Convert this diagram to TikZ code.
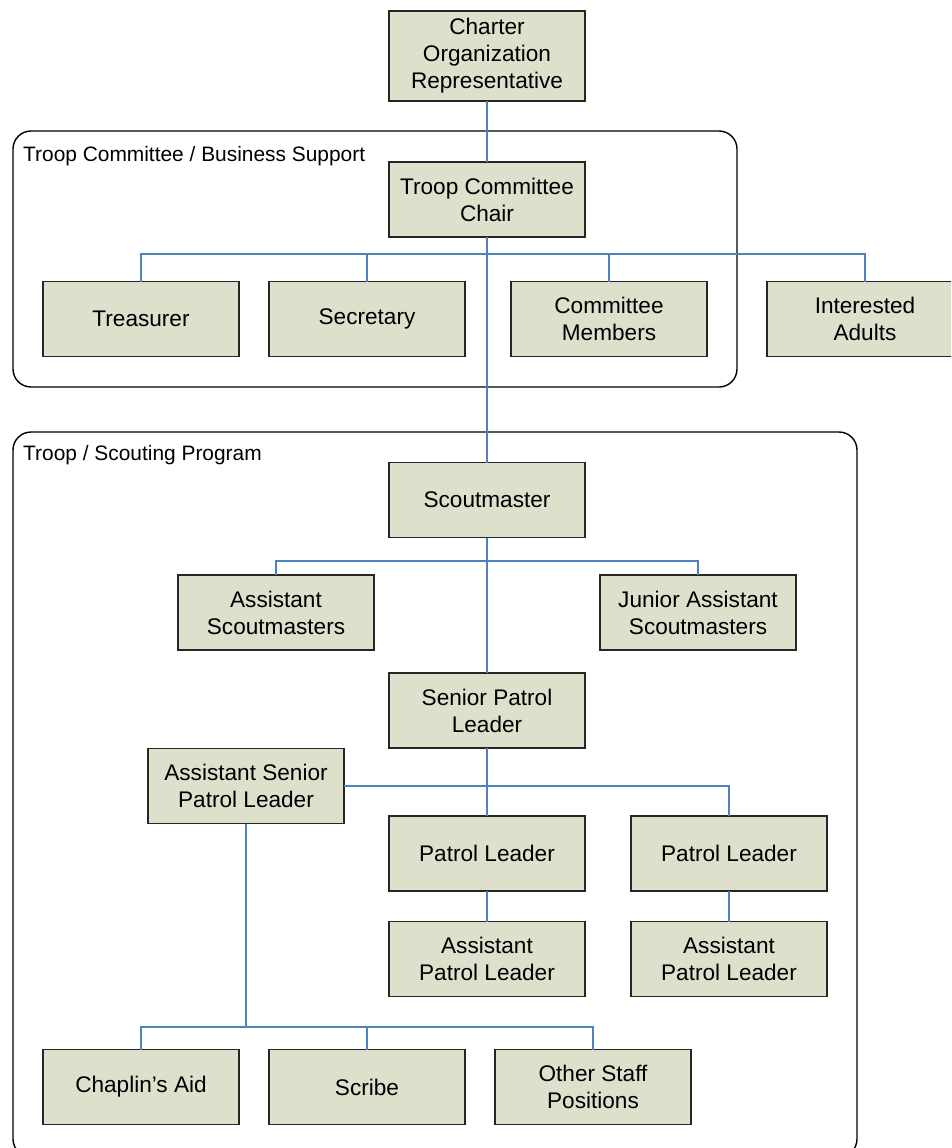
\documentclass[tikz,border=0pt]{standalone}
\usepackage{fontspec}
\setmainfont{Liberation Sans}
\definecolor{boxfill}{HTML}{DDE0CB}
\definecolor{linkblue}{HTML}{4F81BD}
\begin{document}
\begin{tikzpicture}[x=1pt,y=-1pt,
  orgbox/.style={draw=black!85, line width=1.2pt, fill=boxfill, minimum width=196pt, minimum height=75pt,
     inner sep=0pt, outer sep=0pt, align=center, font=\fontsize{22.6}{27}\selectfont},
  link/.style={draw=linkblue, line width=1.3pt},
  frame/.style={draw=black, line width=1.4pt, rounded corners=18pt},
  framelabel/.style={anchor=west, inner sep=0pt, font=\fontsize{20.9}{25}\selectfont}]
\clip (0,0) rectangle (951,1148);
\fill[white] (0,0) rectangle (951,1148);
% frames
\draw[frame] (13,131) rectangle (737,387);
\draw[frame] (13,432) rectangle (857,1157);
\node[framelabel] (lab1) at (23,156) {Troop Committee / Business Support};
\node[framelabel] (lab2) at (23,455) {Troop / Scouting Program};
% boxes
\node[orgbox, minimum height=90pt] (charter) at (487,56) {Charter\\Organization\\Representative};
\node[orgbox] (chair) at (487,199.5) {Troop Committee\\Chair};
\node[orgbox] (treas) at (141,319) {Treasurer};
\node[orgbox] (sec) at (367,319) {Secretary};
\node[orgbox] (cm) at (609,319) {Committee\\Members};
\node[orgbox] (ia) at (865,319) {Interested\\Adults};
\node[orgbox] (scout) at (487,500) {Scoutmaster};
\node[orgbox] (asm) at (276,612.5) {Assistant\\Scoutmasters};
\node[orgbox] (jasm) at (698,612.5) {Junior Assistant\\Scoutmasters};
\node[orgbox] (spl) at (487,710.5) {Senior Patrol\\Leader};
\node[orgbox] (aspl) at (246,786) {Assistant Senior\\Patrol Leader};
\node[orgbox] (pl1) at (487,853.5) {Patrol Leader};
\node[orgbox] (pl2) at (729,853.5) {Patrol Leader};
\node[orgbox] (apl1) at (487,959) {Assistant\\Patrol Leader};
\node[orgbox] (apl2) at (729,959) {Assistant\\Patrol Leader};
\node[orgbox] (chap) at (141,1087) {Chaplin’s Aid};
\node[orgbox] (scribe) at (367,1087) {Scribe};
\node[orgbox] (other) at (593,1087) {Other Staff\\Positions};
% junction coordinates
\coordinate (cbus) at (487,254);
\coordinate (sbus) at (487,561);
\coordinate (abus) at (246,1027);
% connectors
\draw[link] (charter.south) -- (chair.north);
\draw[link] (chair.south) -- (scout.north);
\draw[link] (treas.north) |- (cbus) -| (ia.north);
\draw[link] (sec.north) -- (sec.north |- cbus);
\draw[link] (cm.north) -- (cm.north |- cbus);
\draw[link] (asm.north) |- (sbus) -| (jasm.north);
\draw[link] (scout.south) -- (spl.north);
\draw[link] (spl.south) -- (pl1.north);
\draw[link] (aspl.east) -| (pl2.north);
\draw[link] (pl1.south) -- (apl1.north);
\draw[link] (pl2.south) -- (apl2.north);
\draw[link] (aspl.south) -- (abus);
\draw[link] (chap.north) |- (abus) -| (other.north);
\draw[link] (scribe.north) -- (scribe.north |- abus);
\end{tikzpicture}
\end{document}
